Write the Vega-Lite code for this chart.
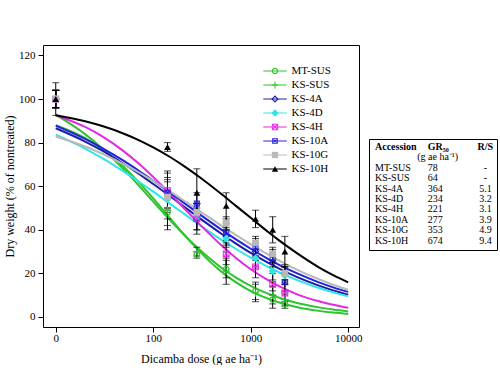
{
  "$schema": "https://vega.github.io/schema/vega-lite/v6.json",
  "background": "white",
  "padding": {"left": 3, "top": 44, "right": 0, "bottom": 0},
  "config": {
    "font": "Liberation Serif",
    "view": {"stroke": "black", "strokeWidth": 1},
    "axis": {"labelFont": "Liberation Serif", "titleFont": "Liberation Serif", "labelColor": "black", "titleColor": "black", "tickColor": "black", "domain": false, "grid": false, "labelFontSize": 11, "titleFontSize": 12, "titleFontWeight": "normal", "tickSize": 5}
  },
  "datasets": {
    "curves": [
      {"accession": "MT-SUS", "dose": 10, "weight": 92.7}, {"accession": "MT-SUS", "dose": 20, "weight": 83.9}, {"accession": "MT-SUS", "dose": 30, "weight": 77.3}, {"accession": "MT-SUS", "dose": 50, "weight": 67.6}, {"accession": "MT-SUS", "dose": 70, "weight": 60.6}, {"accession": "MT-SUS", "dose": 100, "weight": 52.9}, {"accession": "MT-SUS", "dose": 150, "weight": 44.2}, {"accession": "MT-SUS", "dose": 200, "weight": 38.4}, {"accession": "MT-SUS", "dose": 300, "weight": 30.8}, {"accession": "MT-SUS", "dose": 500, "weight": 22.6}, {"accession": "MT-SUS", "dose": 700, "weight": 18.2}, {"accession": "MT-SUS", "dose": 1000, "weight": 14.3}, {"accession": "MT-SUS", "dose": 1500, "weight": 10.7}, {"accession": "MT-SUS", "dose": 2000, "weight": 8.7}, {"accession": "MT-SUS", "dose": 3000, "weight": 6.4}, {"accession": "MT-SUS", "dose": 5000, "weight": 4.4}, {"accession": "MT-SUS", "dose": 7000, "weight": 3.4}, {"accession": "MT-SUS", "dose": 10000, "weight": 2.5},
      {"accession": "KS-SUS", "dose": 10, "weight": 88.0}, {"accession": "KS-SUS", "dose": 20, "weight": 82.1}, {"accession": "KS-SUS", "dose": 30, "weight": 77.1}, {"accession": "KS-SUS", "dose": 50, "weight": 68.8}, {"accession": "KS-SUS", "dose": 70, "weight": 62.1}, {"accession": "KS-SUS", "dose": 100, "weight": 54.4}, {"accession": "KS-SUS", "dose": 150, "weight": 45.1}, {"accession": "KS-SUS", "dose": 200, "weight": 38.6}, {"accession": "KS-SUS", "dose": 300, "weight": 30.0}, {"accession": "KS-SUS", "dose": 500, "weight": 20.8}, {"accession": "KS-SUS", "dose": 700, "weight": 16.0}, {"accession": "KS-SUS", "dose": 1000, "weight": 11.9}, {"accession": "KS-SUS", "dose": 1500, "weight": 8.4}, {"accession": "KS-SUS", "dose": 2000, "weight": 6.5}, {"accession": "KS-SUS", "dose": 3000, "weight": 4.5}, {"accession": "KS-SUS", "dose": 5000, "weight": 2.8}, {"accession": "KS-SUS", "dose": 7000, "weight": 2.0}, {"accession": "KS-SUS", "dose": 10000, "weight": 1.4},
      {"accession": "KS-4A", "dose": 10, "weight": 86.6}, {"accession": "KS-4A", "dose": 20, "weight": 80.5}, {"accession": "KS-4A", "dose": 30, "weight": 76.3}, {"accession": "KS-4A", "dose": 50, "weight": 70.2}, {"accession": "KS-4A", "dose": 70, "weight": 65.9}, {"accession": "KS-4A", "dose": 100, "weight": 61.0}, {"accession": "KS-4A", "dose": 150, "weight": 55.3}, {"accession": "KS-4A", "dose": 200, "weight": 51.1}, {"accession": "KS-4A", "dose": 300, "weight": 45.3}, {"accession": "KS-4A", "dose": 500, "weight": 38.2}, {"accession": "KS-4A", "dose": 700, "weight": 33.8}, {"accession": "KS-4A", "dose": 1000, "weight": 29.4}, {"accession": "KS-4A", "dose": 1500, "weight": 24.9}, {"accession": "KS-4A", "dose": 2000, "weight": 22.0}, {"accession": "KS-4A", "dose": 3000, "weight": 18.3}, {"accession": "KS-4A", "dose": 5000, "weight": 14.4}, {"accession": "KS-4A", "dose": 7000, "weight": 12.2}, {"accession": "KS-4A", "dose": 10000, "weight": 10.2},
      {"accession": "KS-4D", "dose": 10, "weight": 83.7}, {"accession": "KS-4D", "dose": 20, "weight": 77.3}, {"accession": "KS-4D", "dose": 30, "weight": 72.9}, {"accession": "KS-4D", "dose": 50, "weight": 66.7}, {"accession": "KS-4D", "dose": 70, "weight": 62.3}, {"accession": "KS-4D", "dose": 100, "weight": 57.5}, {"accession": "KS-4D", "dose": 150, "weight": 51.8}, {"accession": "KS-4D", "dose": 200, "weight": 47.8}, {"accession": "KS-4D", "dose": 300, "weight": 42.2}, {"accession": "KS-4D", "dose": 500, "weight": 35.4}, {"accession": "KS-4D", "dose": 700, "weight": 31.3}, {"accession": "KS-4D", "dose": 1000, "weight": 27.2}, {"accession": "KS-4D", "dose": 1500, "weight": 23.0}, {"accession": "KS-4D", "dose": 2000, "weight": 20.3}, {"accession": "KS-4D", "dose": 3000, "weight": 16.9}, {"accession": "KS-4D", "dose": 5000, "weight": 13.3}, {"accession": "KS-4D", "dose": 7000, "weight": 11.3}, {"accession": "KS-4D", "dose": 10000, "weight": 9.5},
      {"accession": "KS-4H", "dose": 10, "weight": 92.6}, {"accession": "KS-4H", "dose": 20, "weight": 87.2}, {"accession": "KS-4H", "dose": 30, "weight": 82.9}, {"accession": "KS-4H", "dose": 50, "weight": 76.0}, {"accession": "KS-4H", "dose": 70, "weight": 70.6}, {"accession": "KS-4H", "dose": 100, "weight": 64.2}, {"accession": "KS-4H", "dose": 150, "weight": 56.4}, {"accession": "KS-4H", "dose": 200, "weight": 50.6}, {"accession": "KS-4H", "dose": 300, "weight": 42.5}, {"accession": "KS-4H", "dose": 500, "weight": 32.9}, {"accession": "KS-4H", "dose": 700, "weight": 27.2}, {"accession": "KS-4H", "dose": 1000, "weight": 21.9}, {"accession": "KS-4H", "dose": 1500, "weight": 16.9}, {"accession": "KS-4H", "dose": 2000, "weight": 13.9}, {"accession": "KS-4H", "dose": 3000, "weight": 10.4}, {"accession": "KS-4H", "dose": 5000, "weight": 7.2}, {"accession": "KS-4H", "dose": 7000, "weight": 5.6}, {"accession": "KS-4H", "dose": 10000, "weight": 4.2},
      {"accession": "KS-10A", "dose": 10, "weight": 87.8}, {"accession": "KS-10A", "dose": 20, "weight": 81.7}, {"accession": "KS-10A", "dose": 30, "weight": 77.5}, {"accession": "KS-10A", "dose": 50, "weight": 71.6}, {"accession": "KS-10A", "dose": 70, "weight": 67.3}, {"accession": "KS-10A", "dose": 100, "weight": 62.5}, {"accession": "KS-10A", "dose": 150, "weight": 56.9}, {"accession": "KS-10A", "dose": 200, "weight": 52.8}, {"accession": "KS-10A", "dose": 300, "weight": 47.1}, {"accession": "KS-10A", "dose": 500, "weight": 40.1}, {"accession": "KS-10A", "dose": 700, "weight": 35.7}, {"accession": "KS-10A", "dose": 1000, "weight": 31.3}, {"accession": "KS-10A", "dose": 1500, "weight": 26.7}, {"accession": "KS-10A", "dose": 2000, "weight": 23.7}, {"accession": "KS-10A", "dose": 3000, "weight": 20.0}, {"accession": "KS-10A", "dose": 5000, "weight": 15.9}, {"accession": "KS-10A", "dose": 7000, "weight": 13.6}, {"accession": "KS-10A", "dose": 10000, "weight": 11.5},
      {"accession": "KS-10G", "dose": 10, "weight": 82.8}, {"accession": "KS-10G", "dose": 20, "weight": 78.2}, {"accession": "KS-10G", "dose": 30, "weight": 74.9}, {"accession": "KS-10G", "dose": 50, "weight": 70.0}, {"accession": "KS-10G", "dose": 70, "weight": 66.5}, {"accession": "KS-10G", "dose": 100, "weight": 62.4}, {"accession": "KS-10G", "dose": 150, "weight": 57.5}, {"accession": "KS-10G", "dose": 200, "weight": 53.8}, {"accession": "KS-10G", "dose": 300, "weight": 48.6}, {"accession": "KS-10G", "dose": 500, "weight": 41.9}, {"accession": "KS-10G", "dose": 700, "weight": 37.7}, {"accession": "KS-10G", "dose": 1000, "weight": 33.3}, {"accession": "KS-10G", "dose": 1500, "weight": 28.7}, {"accession": "KS-10G", "dose": 2000, "weight": 25.6}, {"accession": "KS-10G", "dose": 3000, "weight": 21.6}, {"accession": "KS-10G", "dose": 5000, "weight": 17.3}, {"accession": "KS-10G", "dose": 7000, "weight": 14.8}, {"accession": "KS-10G", "dose": 10000, "weight": 12.5},
      {"accession": "KS-10H", "dose": 10, "weight": 92.6}, {"accession": "KS-10H", "dose": 20, "weight": 89.8}, {"accession": "KS-10H", "dose": 30, "weight": 87.6}, {"accession": "KS-10H", "dose": 50, "weight": 84.1}, {"accession": "KS-10H", "dose": 70, "weight": 81.3}, {"accession": "KS-10H", "dose": 100, "weight": 77.8}, {"accession": "KS-10H", "dose": 150, "weight": 73.3}, {"accession": "KS-10H", "dose": 200, "weight": 69.7}, {"accession": "KS-10H", "dose": 300, "weight": 64.1}, {"accession": "KS-10H", "dose": 500, "weight": 56.4}, {"accession": "KS-10H", "dose": 700, "weight": 51.1}, {"accession": "KS-10H", "dose": 1000, "weight": 45.5}, {"accession": "KS-10H", "dose": 1500, "weight": 39.1}, {"accession": "KS-10H", "dose": 2000, "weight": 34.8}, {"accession": "KS-10H", "dose": 3000, "weight": 29.2}, {"accession": "KS-10H", "dose": 5000, "weight": 22.8}, {"accession": "KS-10H", "dose": 7000, "weight": 19.2}, {"accession": "KS-10H", "dose": 10000, "weight": 15.9}
    ],
    "points": [
      {"accession": "MT-SUS", "dose": 10, "weight": 100, "low": 96, "high": 104}, {"accession": "MT-SUS", "dose": 140, "weight": 48, "low": 40, "high": 56}, {"accession": "MT-SUS", "dose": 280, "weight": 28.5, "low": 27, "high": 30}, {"accession": "MT-SUS", "dose": 560, "weight": 22, "low": 18, "high": 26}, {"accession": "MT-SUS", "dose": 1120, "weight": 12, "low": 8, "high": 16}, {"accession": "MT-SUS", "dose": 1680, "weight": 8, "low": 4, "high": 12}, {"accession": "MT-SUS", "dose": 2240, "weight": 6, "low": 4, "high": 8},
      {"accession": "KS-SUS", "dose": 10, "weight": 100, "low": 96, "high": 104}, {"accession": "KS-SUS", "dose": 140, "weight": 49, "low": 42, "high": 56}, {"accession": "KS-SUS", "dose": 280, "weight": 30, "low": 28, "high": 32}, {"accession": "KS-SUS", "dose": 560, "weight": 21, "low": 15, "high": 27}, {"accession": "KS-SUS", "dose": 1120, "weight": 11, "low": 7, "high": 15}, {"accession": "KS-SUS", "dose": 1680, "weight": 10, "low": 6, "high": 14}, {"accession": "KS-SUS", "dose": 2240, "weight": 8, "low": 5, "high": 11},
      {"accession": "KS-4A", "dose": 10, "weight": 100, "low": 96, "high": 104}, {"accession": "KS-4A", "dose": 140, "weight": 57, "low": 50, "high": 64}, {"accession": "KS-4A", "dose": 280, "weight": 45, "low": 40, "high": 50}, {"accession": "KS-4A", "dose": 560, "weight": 37, "low": 33, "high": 41}, {"accession": "KS-4A", "dose": 1120, "weight": 30, "low": 26, "high": 34}, {"accession": "KS-4A", "dose": 1680, "weight": 25, "low": 21, "high": 29}, {"accession": "KS-4A", "dose": 2240, "weight": 20, "low": 16, "high": 24},
      {"accession": "KS-4D", "dose": 10, "weight": 100, "low": 96, "high": 104}, {"accession": "KS-4D", "dose": 140, "weight": 54, "low": 45, "high": 63}, {"accession": "KS-4D", "dose": 280, "weight": 46, "low": 40, "high": 52}, {"accession": "KS-4D", "dose": 560, "weight": 36, "low": 32, "high": 40}, {"accession": "KS-4D", "dose": 1120, "weight": 27, "low": 23, "high": 31}, {"accession": "KS-4D", "dose": 1680, "weight": 21, "low": 17, "high": 25}, {"accession": "KS-4D", "dose": 2240, "weight": 19, "low": 15, "high": 23},
      {"accession": "KS-4H", "dose": 10, "weight": 100, "low": 96, "high": 104}, {"accession": "KS-4H", "dose": 140, "weight": 58, "low": 49, "high": 67}, {"accession": "KS-4H", "dose": 280, "weight": 45, "low": 38, "high": 52}, {"accession": "KS-4H", "dose": 560, "weight": 29, "low": 24, "high": 34}, {"accession": "KS-4H", "dose": 1120, "weight": 23, "low": 18, "high": 28}, {"accession": "KS-4H", "dose": 1680, "weight": 15, "low": 10, "high": 20}, {"accession": "KS-4H", "dose": 2240, "weight": 11, "low": 7, "high": 15},
      {"accession": "KS-10A", "dose": 10, "weight": 100, "low": 96, "high": 104}, {"accession": "KS-10A", "dose": 140, "weight": 57, "low": 50, "high": 66}, {"accession": "KS-10A", "dose": 280, "weight": 52, "low": 47, "high": 57}, {"accession": "KS-10A", "dose": 560, "weight": 39, "low": 35, "high": 43}, {"accession": "KS-10A", "dose": 1120, "weight": 32, "low": 28, "high": 36}, {"accession": "KS-10A", "dose": 1680, "weight": 27, "low": 23, "high": 31}, {"accession": "KS-10A", "dose": 2240, "weight": 16, "low": 12, "high": 20},
      {"accession": "KS-10G", "dose": 10, "weight": 100, "low": 96, "high": 104}, {"accession": "KS-10G", "dose": 140, "weight": 55, "low": 48, "high": 62}, {"accession": "KS-10G", "dose": 280, "weight": 48, "low": 44, "high": 52}, {"accession": "KS-10G", "dose": 560, "weight": 43, "low": 40, "high": 46}, {"accession": "KS-10G", "dose": 1120, "weight": 34, "low": 31, "high": 37}, {"accession": "KS-10G", "dose": 1680, "weight": 29, "low": 26, "high": 32}, {"accession": "KS-10G", "dose": 2240, "weight": 20, "low": 17, "high": 23},
      {"accession": "KS-10H", "dose": 10, "weight": 100, "low": 92.5, "high": 107.5}, {"accession": "KS-10H", "dose": 140, "weight": 78, "low": 76, "high": 80}, {"accession": "KS-10H", "dose": 280, "weight": 57, "low": 46, "high": 68}, {"accession": "KS-10H", "dose": 560, "weight": 51, "low": 45, "high": 57}, {"accession": "KS-10H", "dose": 1120, "weight": 45, "low": 41, "high": 49}, {"accession": "KS-10H", "dose": 1680, "weight": 40, "low": 34, "high": 46}, {"accession": "KS-10H", "dose": 2240, "weight": 30, "low": 23, "high": 37}
    ],
    "table": [
      {"row": 0, "col": 0, "label": "Accession", "part": "head"}, {"row": 0, "col": 1, "label": "GR₅₀", "part": "head"}, {"row": 0, "col": 2, "label": "R/S", "part": "head"},
      {"row": 1, "col": 1, "label": "(g ae ha⁻¹)", "part": "unit"},
      {"row": 2, "col": 0, "label": "MT-SUS", "part": "body"}, {"row": 2, "col": 1, "label": "78", "part": "body"}, {"row": 2, "col": 2, "label": "-", "part": "body"},
      {"row": 3, "col": 0, "label": "KS-SUS", "part": "body"}, {"row": 3, "col": 1, "label": "64", "part": "body"}, {"row": 3, "col": 2, "label": "-", "part": "body"},
      {"row": 4, "col": 0, "label": "KS-4A", "part": "body"}, {"row": 4, "col": 1, "label": "364", "part": "body"}, {"row": 4, "col": 2, "label": "5.1", "part": "body"},
      {"row": 5, "col": 0, "label": "KS-4D", "part": "body"}, {"row": 5, "col": 1, "label": "234", "part": "body"}, {"row": 5, "col": 2, "label": "3.2", "part": "body"},
      {"row": 6, "col": 0, "label": "KS-4H", "part": "body"}, {"row": 6, "col": 1, "label": "221", "part": "body"}, {"row": 6, "col": 2, "label": "3.1", "part": "body"},
      {"row": 7, "col": 0, "label": "KS-10A", "part": "body"}, {"row": 7, "col": 1, "label": "277", "part": "body"}, {"row": 7, "col": 2, "label": "3.9", "part": "body"},
      {"row": 8, "col": 0, "label": "KS-10G", "part": "body"}, {"row": 8, "col": 1, "label": "353", "part": "body"}, {"row": 8, "col": 2, "label": "4.9", "part": "body"},
      {"row": 9, "col": 0, "label": "KS-10H", "part": "body"}, {"row": 9, "col": 1, "label": "674", "part": "body"}, {"row": 9, "col": 2, "label": "9.4", "part": "body"}
    ]
  },
  "spacing": 5,
  "hconcat": [
    {
      "width": 316,
      "height": 282,
      "layer": [
        {
          "data": {"name": "curves"},
          "mark": {"type": "line", "strokeWidth": 2, "interpolate": "monotone"},
          "encoding": {
            "x": {"field": "dose", "type": "quantitative", "scale": {"type": "log", "domain": [7.4, 12900], "nice": false},
                  "axis": {"values": [10, 100, 1000, 10000], "labelExpr": "datum.value == 10 ? '0' : format(datum.value, 'd')", "title": "Dicamba dose (g ae ha⁻¹)", "labelPadding": 0, "titlePadding": 10, "labelFlush": false, "labelOverlap": false}},
            "y": {"field": "weight", "type": "quantitative", "scale": {"domain": [-4.6, 124.8], "nice": false, "zero": false},
                  "axis": {"values": [0, 20, 40, 60, 80, 100, 120], "title": "Dry weight (% of nontreated)", "labelPadding": 3, "titlePadding": 2}},
            "stroke": {"field": "accession", "type": "nominal",
              "scale": {"domain": ["MT-SUS", "KS-SUS", "KS-4A", "KS-4D", "KS-4H", "KS-10A", "KS-10G", "KS-10H"],
                        "range": ["#2ec42e", "#2ec42e", "#1c1caa", "#2ee6e6", "#e628e6", "#2222dd", "#b9b9b9", "#000000"]},
              "legend": {
                "orient": "none", "legendX": 226.5, "legendY": 20.5, "title": null, "padding": 0,
                "symbolType": "M-2.35,0H2.35", "symbolSize": 100, "symbolStrokeWidth": 1,
                "labelFontSize": 11, "labelFont": "Liberation Serif", "labelColor": "black",
                "labelOffset": 11, "rowPadding": 2
              }
            }
          }
        },
        {
          "data": {"name": "points"},
          "mark": {"type": "errorbar", "ticks": {"size": 7}, "color": "black"},
          "encoding": {
            "x": {"field": "dose", "type": "quantitative", "title": "Dicamba dose (g ae ha⁻¹)"},
            "y": {"field": "low", "type": "quantitative", "title": "Dry weight (% of nontreated)"},
            "y2": {"field": "high"}
          }
        },
        {
          "data": {"name": "points"},
          "mark": {"type": "point", "filled": true, "opacity": 1, "strokeWidth": 0, "size": 46},
          "encoding": {
            "x": {"field": "dose", "type": "quantitative", "title": "Dicamba dose (g ae ha⁻¹)"},
            "y": {"field": "weight", "type": "quantitative", "title": "Dry weight (% of nontreated)"},
            "fill": {"field": "accession", "type": "nominal", "sort": null,
              "scale": {"range": ["#2ec42e", "#2ec42e", "#1c1caa", "#2ee6e6", "#e628e6", "#2222dd", "#b9b9b9", "#000000"]},
              "legend": {
                "orient": "none", "legendX": 226.5, "legendY": 20.5, "title": null, "padding": 0,
                "symbolSize": 40, "symbolStrokeWidth": 0,
                "labelFontSize": 11, "labelFont": "Liberation Serif", "labelOpacity": 0,
                "labelOffset": 11, "rowPadding": 2
              }
            },
            "shape": {"field": "accession", "type": "nominal", "sort": null,
              "scale": {"range": [
                "M-1,0A1,1,0,1,0,1,0A1,1,0,1,0,-1,0ZM-0.62,0A0.62,0.62,0,1,1,0.62,0A0.62,0.62,0,1,1,-0.62,0Z",
                "M-1.1,-0.16H1.1V0.16H-1.1ZM-0.16,-1.1H0.16V1.1H-0.16Z",
                "M0,-1.15L1.15,0L0,1.15L-1.15,0ZM0,-0.65L-0.65,0L0,0.65L0.65,0Z",
                "M0,-1.15L1.15,0L0,1.15L-1.15,0Z",
                "M-1,-1H1V1H-1ZM-0.68,-0.68V0.68H0.68V-0.68ZM-0.68,-0.46L0.46,0.68L0.68,0.46L-0.46,-0.68ZM0.68,-0.46L0.46,-0.68L-0.68,0.46L-0.46,0.68Z",
                "M-0.9,-0.9H0.9V0.9H-0.9ZM-0.6,-0.6V0.6H0.6V-0.6ZM-0.6,-0.4L0.4,0.6L0.6,0.4L-0.4,-0.6ZM0.6,-0.4L0.4,-0.6L-0.6,0.4L-0.4,0.6Z",
                "square",
                "triangle-up"]},
              "legend": {
                "orient": "none", "legendX": 226.5, "legendY": 20.5, "title": null, "padding": 0,
                "symbolSize": 40, "symbolStrokeWidth": 0,
                "labelFontSize": 11, "labelFont": "Liberation Serif", "labelOpacity": 0,
                "labelOffset": 11, "rowPadding": 2
              }
            }
          }
        }
      ]
    },
    {
      "spacing": 0,
      "vconcat": [
        {"width": 128, "height": 92, "data": {"values": [{"row": 0}]}, "mark": {"type": "text", "text": ""}, "view": {"stroke": "transparent"}},
        {
          "width": 128,
          "height": 111,
          "data": {"name": "table"},
          "encoding": {
            "x": {"field": "col", "type": "quantitative", "scale": {"domain": [-0.1139, 2.315], "nice": false, "zero": false}, "axis": null},
            "y": {"field": "row", "type": "quantitative", "scale": {"domain": [-0.77, 9.9], "nice": false, "zero": false, "reverse": true}, "axis": null},
            "text": {"field": "label", "type": "nominal"}
          },
          "layer": [
            {"transform": [{"filter": "datum.part == 'head' && datum.col < 2"}], "mark": {"type": "text", "align": "left", "baseline": "middle", "fontSize": 10, "font": "Liberation Serif", "fontWeight": "bold"}},
            {"transform": [{"filter": "datum.part == 'head' && datum.col == 2"}], "mark": {"type": "text", "align": "center", "baseline": "middle", "fontSize": 10, "font": "Liberation Serif", "dx": 5, "fontWeight": "bold"}},
            {"transform": [{"filter": "datum.part == 'unit'"}], "mark": {"type": "text", "align": "center", "baseline": "middle", "fontSize": 10, "font": "Liberation Serif", "dx": 10}},
            {"transform": [{"filter": "datum.part == 'body' && datum.col < 2"}], "mark": {"type": "text", "align": "left", "baseline": "middle", "fontSize": 10, "font": "Liberation Serif"}},
            {"transform": [{"filter": "datum.part == 'body' && datum.col == 2"}], "mark": {"type": "text", "align": "center", "baseline": "middle", "fontSize": 10, "font": "Liberation Serif", "dx": 5}}
          ]
        }
      ]
    }
  ]
}
